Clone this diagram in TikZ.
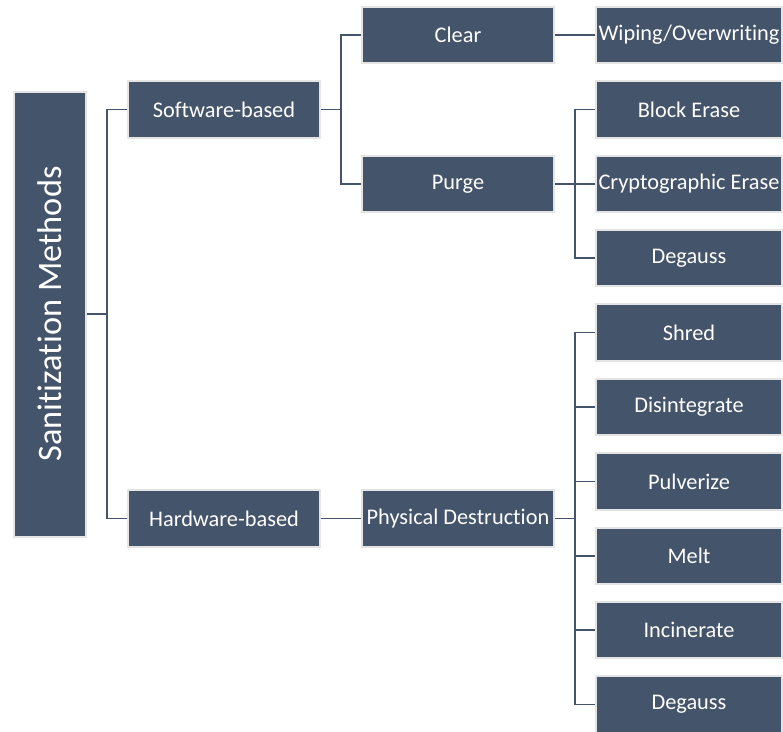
\documentclass[tikz,border=0pt]{standalone}
\usepackage{fontspec}
\setmainfont{Carlito}[Ligatures=NoCommon]
\usetikzlibrary{positioning,calc}
\definecolor{slate}{HTML}{44546A}
\definecolor{rim}{HTML}{E4E4E4}

\begin{document}
\begin{tikzpicture}[
    node distance=11.9pt and 30pt,
    box/.style={rectangle, minimum width=144pt, minimum height=42.4pt, inner sep=1pt, text centered, draw=rim, line width=1.5pt, fill=slate, text=white, font=\fontsize{16.75}{20}\selectfont},
    leaf/.style={box, minimum width=139.5pt},
    rootbox/.style={box, minimum width=333.75pt, minimum height=54pt, rotate=90, font=\fontsize{25.75}{30}\selectfont},
    link/.style={draw=slate, line width=1.2pt}
]
\useasboundingbox (0,0) rectangle (587.25pt,-549pt);

% leaves
\node (wipe) [leaf] at (516.75pt,-26.25pt) {Wiping/Overwriting};
\node (block) [leaf, below=of wipe] {Block Erase};
\node (crypt) [leaf, below=of block] {Cryptographic Erase};
\node (degA) [leaf, below=of crypt] {Degauss};
\node (shred) [leaf, below=of degA] {Shred};
\node (disint) [leaf, below=of shred] {Disintegrate};
\node (pulv) [leaf, below=of disint] {Pulverize};
\node (melt) [leaf, below=of pulv] {Melt};
\node (incin) [leaf, below=of melt] {Incinerate};
\node (degB) [leaf, below=of incin] {Degauss};

% second level
\node (clear) [box, left=of wipe] {Clear};
\node (purge) [box, left=of crypt] {Purge};
\coordinate (physmid) at ($(pulv.west)!0.5!(melt.west)$);
\node (phys) [box, left=of physmid] {Physical Destruction};

% first level
\coordinate (softmid) at ($(clear.west)!0.5!(purge.west)$);
\node (soft) [box, left=of softmid] {Software-based};
\node (hard) [box, left=of phys] {Hardware-based};

% root
\coordinate (rootmid) at ($(soft.west)!0.5!(hard.west)$);
\node (root) [rootbox, left=of rootmid, anchor=south] {Sanitization Methods};

% connectors
\draw [link] (root.south) -- ++(15pt,0) |- (soft.west);
\draw [link] (root.south) -- ++(15pt,0) |- (hard.west);
\draw [link] (soft.east) -- ++(15pt,0) |- (clear.west);
\draw [link] (soft.east) -- ++(15pt,0) |- (purge.west);
\draw [link] (clear) -- (wipe);
\draw [link] (hard) -- (phys);
\foreach \kid in {block,crypt,degA}
  \draw [link] (purge.east) -- ++(15pt,0) |- (\kid.west);
\foreach \kid in {shred,disint,pulv,melt,incin,degB}
  \draw [link] (phys.east) -- ++(15pt,0) |- (\kid.west);

\end{tikzpicture}
\end{document}
